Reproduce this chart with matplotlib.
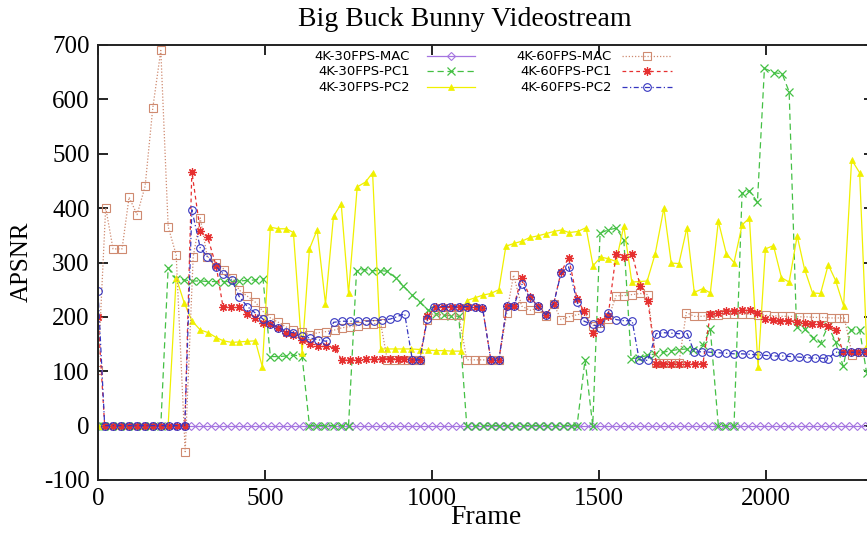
import matplotlib
matplotlib.use("Agg")
import matplotlib.pyplot as plt
from matplotlib.lines import Line2D

plt.rcParams["axes.unicode_minus"] = False

# frame numbers / APSNR values
mac30_x = [0, 15, 39, 63, 87, 111, 135, 159, 183, 207, 231, 255, 279, 303, 327, 351, 375, 399,
           423, 447, 471, 495, 519, 543, 567, 591, 615, 639, 663, 687, 711, 735, 759, 783, 807,
           831, 855, 879, 903, 927, 951, 975, 999, 1023, 1047, 1071, 1095, 1119, 1143, 1167,
           1191, 1215, 1239, 1263, 1287, 1311, 1335, 1359, 1383, 1407, 1431, 1455, 1479, 1503,
           1527, 1551, 1575, 1599, 1623, 1647, 1671, 1695, 1719, 1743, 1767, 1791, 1815, 1839,
           1863, 1887, 1911, 1935, 1959, 1983, 2007, 2031, 2055, 2079, 2103, 2127, 2151, 2175,
           2199, 2223, 2247, 2271, 2295]
mac30_y = [0] * len(mac30_x)

pc1_30_x = [0, 15, 39, 63, 87, 111, 135, 159, 188, 210, 234, 258, 282, 306, 330, 354, 378, 401,
            423, 447, 471, 494, 516, 540, 564, 585, 611, 633, 657, 681, 705, 729, 750, 774, 795,
            821, 843, 866, 891, 914, 939, 963, 987, 1011, 1035, 1058, 1080, 1104, 1128, 1152,
            1176, 1200, 1224, 1248, 1272, 1296, 1320, 1344, 1368, 1392, 1416, 1434, 1458, 1481,
            1503, 1527, 1551, 1574, 1596, 1620, 1644, 1668, 1692, 1716, 1739, 1763, 1781, 1811,
            1833, 1857, 1881, 1904, 1928, 1950, 1974, 1995, 2024, 2048, 2069, 2091, 2115, 2141,
            2163, 2186, 2208, 2231, 2253, 2280, 2301]
pc1_30_y = [0, 0, 0, 0, 0, 0, 0, 0, 0, 290, 270, 268, 266, 266, 265, 265, 265, 265,
            266, 267, 268, 270, 127, 127, 128, 130, 127, 0, 0, 0, 0, 0, 0, 285, 287,
            285, 285, 284, 272, 257, 241, 227, 213, 206, 203, 202, 201, 0, 0, 0,
            0, 0, 0, 0, 0, 0, 0, 0, 0, 0, 0, 0, 121, 0,
            354, 360, 363, 342, 123, 125, 129, 132, 135, 138, 140, 141, 140, 149,
            177, 0, 0, 0, 427, 432, 411, 657, 649, 647, 614, 182, 178, 162,
            152, 184, 153, 109, 176, 176, 97]

pc2_30_x = [0, 15, 39, 63, 87, 111, 135, 159, 188, 210, 234, 258, 281, 306, 330, 354, 375, 401,
            423, 447, 471, 492, 516, 540, 564, 585, 611, 633, 656, 681, 705, 728, 750, 776, 801,
            822, 846, 866, 890, 914, 938, 963, 987, 1011, 1035, 1060, 1086, 1104, 1128, 1152,
            1176, 1200, 1221, 1245, 1268, 1293, 1317, 1341, 1364, 1388, 1410, 1436, 1461, 1482,
            1505, 1527, 1551, 1574, 1598, 1621, 1644, 1668, 1694, 1716, 1739, 1763, 1785, 1811,
            1833, 1857, 1881, 1904, 1928, 1950, 1976, 1998, 2022, 2046, 2069, 2093, 2115, 2139,
            2163, 2186, 2208, 2232, 2256, 2280, 2301]
pc2_30_y = [0, 0, 0, 0, 0, 0, 0, 0, 0, 0, 272, 226, 193, 176, 171, 162, 156, 153,
            154, 155, 156, 108, 365, 362, 362, 355, 134, 325, 360, 224, 385, 408, 243, 439, 448,
            465, 141, 141, 141, 141, 141, 140, 139, 138, 138, 137, 137, 230, 235, 240,
            243, 250, 330, 335, 339, 346, 349, 353, 357, 360, 355, 357, 364, 294,
            310, 307, 302, 367, 264, 265, 266, 316, 400, 299, 298, 364, 245, 252,
            244, 376, 316, 300, 369, 382, 107, 325, 331, 272, 264, 349, 288, 244,
            243, 296, 267, 220, 489, 465, 149]

mac60_x = [0, 23, 45, 72, 93, 117, 141, 164, 188, 210, 234, 261, 285, 306, 327, 354, 378, 401,
           423, 447, 471, 494, 516, 540, 561, 585, 611, 633, 659, 684, 708, 731, 753, 777, 801,
           824, 846, 866, 890, 915, 941, 963, 986, 1008, 1032, 1056, 1080, 1104, 1128, 1151,
           1176, 1200, 1224, 1244, 1268, 1293, 1316, 1341, 1364, 1386, 1410, 1434, 1458, 1481,
           1503, 1527, 1551, 1574, 1599, 1623, 1646, 1671, 1691, 1716, 1739, 1761, 1785, 1809,
           1833, 1857, 1881, 1905, 1929, 1953, 1977, 2001, 2025, 2049, 2073, 2097, 2121, 2145,
           2169, 2193, 2217, 2234, 2258, 2280, 2301]
mac60_y = [103, 401, 325, 325, 420, 388, 440, 584, 690, 366, 314, -48, 311, 382, 311, 300, 287, 272,
           249, 238, 227, 210, 198, 190, 182, 176, 172, 167, 171, 173, 176, 180, 182, 184, 186,
           187, 189, 121, 121, 121, 121, 121, 195, 204, 204, 204, 204, 121, 121, 121,
           120, 120, 208, 277, 220, 212, 216, 202, 224, 195, 200, 204, 207, 184,
           189, 196, 239, 239, 241, 243, 241, 115, 115, 115, 115, 208, 201, 201,
           203, 204, 205, 205, 205, 205, 204, 203, 202, 201, 201, 200, 200, 199,
           199, 198, 198, 198, 130, 135, 135]

pc1_60_x = [0, 20, 44, 68, 92, 116, 140, 164, 188, 212, 236, 260, 281, 306, 328, 354, 374, 398,
            423, 447, 471, 494, 516, 540, 564, 585, 611, 636, 660, 684, 708, 731, 755, 779, 803,
            827, 851, 875, 899, 915, 941, 963, 986, 1011, 1035, 1059, 1083, 1107, 1131, 1151,
            1176, 1200, 1224, 1245, 1268, 1293, 1316, 1341, 1364, 1386, 1409, 1434, 1455, 1481,
            1503, 1527, 1551, 1574, 1599, 1623, 1646, 1671, 1691, 1715, 1739, 1763, 1787, 1811,
            1833, 1857, 1881, 1905, 1928, 1952, 1974, 1998, 2020, 2043, 2067, 2091, 2115, 2138,
            2160, 2184, 2208, 2231, 2254, 2276, 2298]
pc1_60_y = [200, 0, 0, 0, 0, 0, 0, 0, 0, 0, 0, 0, 467, 358, 347, 293, 219, 219,
            219, 206, 198, 189, 186, 180, 171, 167, 158, 151, 147, 146, 143, 120, 121, 121, 122,
            122, 123, 123, 123, 123, 121, 121, 201, 219, 219, 219, 219, 219, 219, 217,
            121, 121, 220, 220, 272, 237, 220, 204, 224, 282, 309, 233, 210, 171,
            192, 201, 316, 311, 316, 257, 230, 114, 114, 114, 114, 114, 114, 114,
            206, 208, 210, 211, 212, 212, 207, 196, 194, 193, 193, 190, 188, 187,
            186, 184, 176, 135, 135, 135, 135]

pc2_60_x = [0, 20, 44, 68, 92, 116, 140, 164, 188, 212, 236, 260, 281, 306, 327, 354, 375, 401,
            423, 447, 471, 494, 516, 540, 564, 585, 611, 636, 659, 684, 705, 731, 755, 779, 803,
            827, 851, 875, 894, 918, 941, 963, 986, 1005, 1030, 1055, 1080, 1104, 1128, 1151,
            1176, 1200, 1224, 1245, 1268, 1293, 1316, 1341, 1364, 1386, 1409, 1434, 1455, 1481,
            1503, 1527, 1551, 1574, 1599, 1620, 1646, 1671, 1691, 1716, 1740, 1764, 1785, 1809,
            1833, 1857, 1881, 1905, 1929, 1953, 1977, 2001, 2025, 2049, 2073, 2097, 2121, 2145,
            2169, 2184, 2208, 2231, 2254, 2276, 2298]
pc2_60_y = [247, 0, 0, 0, 0, 0, 0, 0, 0, 0, 0, 0, 397, 327, 311, 292, 279, 267,
            237, 219, 207, 196, 187, 180, 173, 171, 164, 161, 158, 155, 190, 192, 192, 192, 192,
            193, 194, 196, 200, 206, 121, 121, 196, 219, 219, 219, 219, 219, 219, 217,
            121, 121, 220, 220, 261, 235, 220, 204, 224, 280, 292, 228, 192, 186,
            180, 208, 195, 193, 193, 121, 120, 169, 171, 170, 169, 169, 135, 136,
            135, 134, 133, 132, 132, 131, 130, 129, 128, 128, 127, 126, 125, 124,
            124, 123, 135, 135, 135, 135, 135]

labels = ["4K-30FPS-MAC", "4K-30FPS-PC1", "4K-30FPS-PC2",
          "4K-60FPS-MAC", "4K-60FPS-PC1", "4K-60FPS-PC2"]

series = [(mac30_x, mac30_y), (pc1_30_x, pc1_30_y), (pc2_30_x, pc2_30_y),
          (mac60_x, mac60_y), (pc1_60_x, pc1_60_y), (pc2_60_x, pc2_60_y)]

lw = 0.9
styles = [
    dict(color="#a575e0", ls="-", marker="D", ms=4.5, mfc="none", mew=0.8),
    dict(color="#44c044", ls=(0, (5, 3)), marker="x", ms=6, mew=0.9),
    dict(color="#f0f000", ls="-", marker="^", ms=4.5, mew=0.5),
    dict(color="#cf8a70", ls=(0, (1, 1.5)), marker="s", ms=5.5, mfc="none", mew=0.8),
    dict(color="#e63030", ls=(0, (3, 2.5)), marker=(8, 2, 0), ms=6, mew=0.9),
    dict(color="#3535c0", ls=(0, (4, 2, 1, 2)), marker="o", ms=5.5, mfc="none", mew=0.8),
]

fig = plt.figure(figsize=(8.67, 5.34), dpi=100)
ax = fig.add_axes([98 / 867, 1 - 480 / 534, 776 / 867, 435 / 534])

for (xs, ys), st, lab in zip(series, styles, labels):
    ax.plot(xs, ys, lw=lw, label=lab, **st)

ax.set_xlim(0, 2323)
ax.set_ylim(-100, 700)
ax.set_xticks([0, 500, 1000, 1500, 2000])
ax.set_yticks([-100, 0, 100, 200, 300, 400, 500, 600, 700])

serif = ["Liberation Serif", "DejaVu Serif"]
sans = ["DejaVu Sans"]
ax.tick_params(direction="in", length=7, width=1.2, top=True, right=True,
               labelsize=18, pad=6)
for t in ax.get_xticklabels() + ax.get_yticklabels():
    t.set_fontfamily(serif)
for s in ax.spines.values():
    s.set_linewidth(1.4)
    s.set_color("#222222")

fig.text(22 / 867, 1 - 262 / 534, "APSNR", rotation=90, ha="center", va="center",
         fontsize=18, family=serif)
fig.text(486 / 867, 1 - 518 / 534, "Frame", ha="center", va="center",
         fontsize=20, family=serif)
fig.text(465 / 867, 1 - 20 / 534, "Big Buck Bunny Videostream", ha="center", va="center",
         fontsize=20, family=serif)

# gnuplot-style key: right-aligned text followed by the line sample, 3 rows x 2 columns
W, H = 867.0, 534.0
col_text_right = [410, 612]
col_sample = [(427, 475), (622, 672)]
row_y = [56, 71.5, 87]
for i, (st, lab) in enumerate(zip(styles, labels)):
    c, r = divmod(i, 3)
    y = 1 - row_y[r] / H
    fig.text(col_text_right[c] / W, y, lab, ha="right", va="center",
             fontsize=9.5, family=sans)
    x0, x1 = col_sample[c]
    fig.add_artist(Line2D([x0 / W, (x0 + x1) / 2 / W, x1 / W], [y, y, y],
                          transform=fig.transFigure, lw=lw, markevery=[1], **st))

fig.savefig("out.png", dpi=100)
